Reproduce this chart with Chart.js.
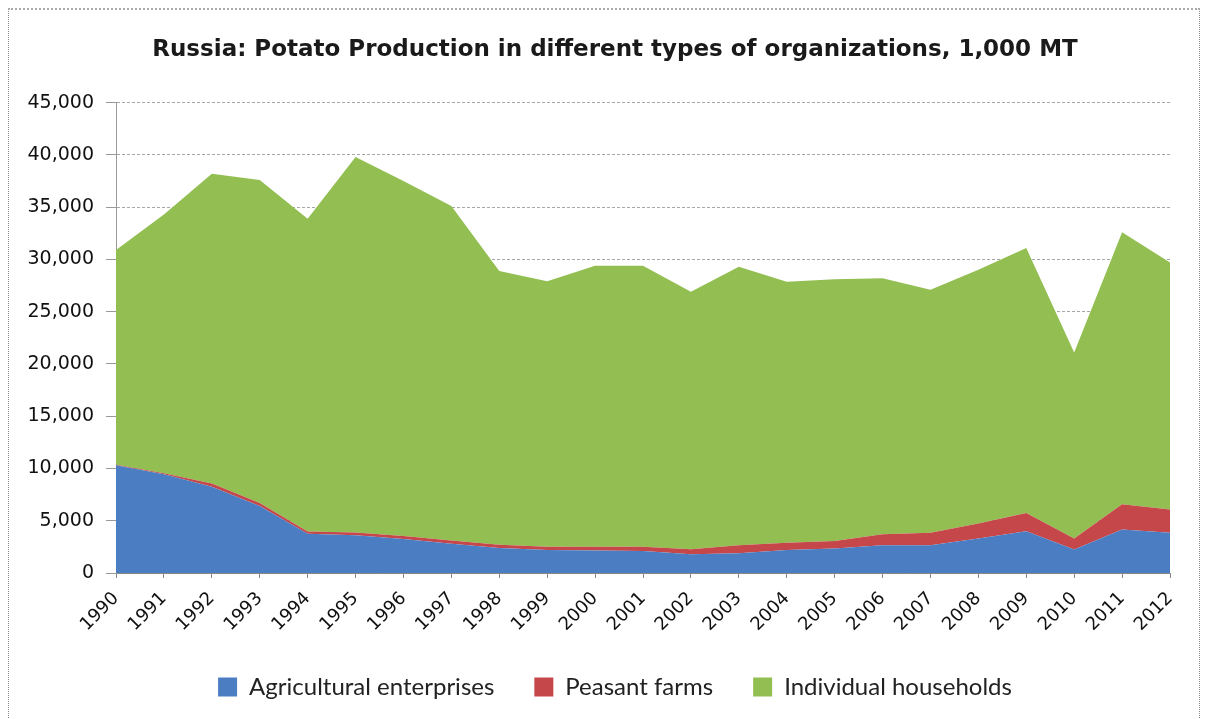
<!DOCTYPE html>
<html><head><meta charset="utf-8">
<script src="https://cdn.jsdelivr.net/npm/chart.js@4.4.1/dist/chart.umd.min.js"></script>
<style>
html,body{margin:0;padding:0;background:#fff;}
#wrap{position:absolute;left:0;top:0;width:1209px;height:719px;}
#frame{position:absolute;left:8px;top:8px;width:1190px;height:720px;border-left:1px dotted #888;border-top:2px dotted #aaa;border-right:1px dotted #888;}
canvas{position:absolute;left:0;top:0;}
</style></head>
<body>
<div id="wrap"><div id="frame"></div><canvas id="c" width="1209" height="719"></canvas></div>
<script>
const years = ["1990","1991","1992","1993","1994","1995","1996","1997","1998","1999","2000","2001","2002","2003","2004","2005","2006","2007","2008","2009","2010","2011","2012"];
const agricultural = [10300,9450,8250,6400,3750,3600,3250,2800,2400,2200,2150,2100,1800,1900,2200,2350,2650,2650,3300,4000,2250,4150,3850];
const peasant = [50,100,300,300,220,270,300,300,300,300,350,400,470,750,700,720,1050,1200,1430,1750,1050,2430,2220];
const households = [20550,24750,29650,30900,29930,35930,33950,32000,26200,25400,26900,26900,24630,26650,24950,25030,24500,23250,24270,25350,17800,26020,23630];
const seriesNames = ["Agricultural enterprises","Peasant farms","Individual households"];
const yTicks = [0,5000,10000,15000,20000,25000,30000,35000,40000,45000];

const DV = "'DejaVu Sans', sans-serif";
const LATO = "Lato, sans-serif";
const colors = ["#4a7dc2","#c6474a","#93bf52"];
const mk = (label, data, i) => ({
  label, data, fill: i === 0 ? 'origin' : '-1',
  backgroundColor: colors[i], borderColor: colors[i], borderWidth: 0,
  pointRadius: 0, tension: 0, yAxisID: 'y'
});

const TF = 23;
new Chart(document.getElementById('c'), {
  type: 'line',
  data: { labels: years, datasets: [
    mk(seriesNames[0], agricultural, 0),
    mk(seriesNames[1], peasant, 1),
    mk(seriesNames[2], households, 2)
  ]},
  options: {
    responsive: false, animation: false,
    layout: { padding: { left: 10, right: -11, top: 0, bottom: 10 } },
    plugins: {
      title: { display: true, text: "Russia: Potato Production in different types of organizations, 1,000 MT",
        font: { family: DV, size: TF, weight: 'bold' }, color: '#1a1a1a',
        padding: { top: Math.round(50 - 0.6 * TF), bottom: Math.round(103 - (50 - 0.6 * TF) - 1.2 * TF) } },
      legend: { position: 'bottom', labels: { font: { family: LATO, size: 24 }, color: '#222', boxWidth: 19, boxHeight: 19, padding: 40 } },
      tooltip: { enabled: false }
    },
    scales: {
      x: {
        offset: false,
        afterFit: s => { s.height = 62; },
        grid: { display: true, drawOnChartArea: false, drawTicks: true, tickLength: 5, color: '#888' },
        border: { display: true, color: '#888', width: 1 },
        ticks: { font: { family: DV, size: 18 }, color: '#111', maxRotation: 45, minRotation: 45, autoSkip: false, padding: 10 }
      },
      y: {
        stacked: true, min: 0, max: 45000,
        afterBuildTicks: s => { s.ticks = yTicks.map(v => ({ value: v })); },
        afterFit: s => { s.width = 106; },
        grid: { color: '#a6a6a6', lineWidth: 1, tickLength: 10, tickColor: '#999' },
        border: { display: true, color: '#999', dash: [3, 2] },
        ticks: { font: { family: DV, size: 19 }, color: '#111', padding: 12,
          callback: v => v.toLocaleString('en-US') }
      },
      yRight: {
        position: 'right', display: true, min: 0, max: 45000,
        afterFit: s => { s.width = 50; },
        grid: { display: false, drawTicks: false },
        border: { display: false },
        ticks: { display: false }
      }
    }
  }
});
</script>
</body></html>
